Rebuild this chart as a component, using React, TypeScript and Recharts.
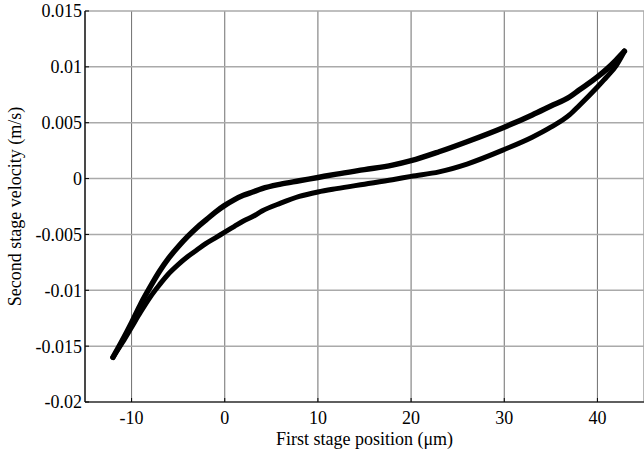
import { LineChart, Line, XAxis, YAxis, CartesianGrid } from 'recharts';

// upper branch of the hysteresis loop, bottom-left tip to top-right tip
const upperX = [-12, -11, -10, -9, -8, -7, -6, -5, -4, -3, -2, -1, 0, 1, 2, 3, 4, 6, 8, 10, 12, 15, 18, 20, 23, 26, 30, 33, 35, 37, 38, 40, 41, 42, 42.9];
const upperY = [
  -0.016, -0.0145, -0.0129, -0.0112, -0.0097, -0.0083, -0.0071, -0.0061, -0.0052, -0.0044, -0.0037, -0.003,
  -0.0024, -0.0019, -0.0015, -0.0012, -0.0009, -0.0005, -0.0002, 0.0001, 0.0004, 0.0008, 0.0012, 0.0016,
  0.0024, 0.0033, 0.0046, 0.0057, 0.0065, 0.0073, 0.0079, 0.0091, 0.0098, 0.0106, 0.0114,
];

// lower branch, same direction
const lowerX = [-12, -11, -10, -9, -8, -7, -6, -5, -4, -3, -2, -1, 0, 1, 2, 3, 4, 6, 8, 10, 12, 15, 18, 20, 23, 26, 30, 33, 35, 37, 38, 40, 41, 42, 42.9];
const lowerY = [
  -0.016, -0.0147, -0.0133, -0.0119, -0.0106, -0.0095, -0.0085, -0.0077, -0.007, -0.0064, -0.0058, -0.0053,
  -0.0048, -0.0043, -0.0038, -0.0034, -0.0029, -0.0022, -0.0016, -0.0012, -0.0009, -0.0005, -0.0001, 0.0002,
  0.0006, 0.0013, 0.0026, 0.0037, 0.0046, 0.0057, 0.0065, 0.0082, 0.0091, 0.0101, 0.0114,
];

const xTicks = [-10, 0, 10, 20, 30, 40];
const yTicks = [-0.02, -0.015, -0.01, -0.005, 0, 0.005, 0.01, 0.015];

const upper = upperX.map((x, i) => ({ x, y: upperY[i] }));
const lower = lowerX.map((x, i) => ({ x, y: lowerY[i] }));

const font = "'Liberation Serif', 'Times New Roman', serif";
const tickStyle = { fill: '#000', fontSize: 18, fontFamily: font };

const fmtY = (v: number) => String(Number(v.toFixed(3)));

export default function App() {
  return (
    <div style={{ position: 'absolute', left: 0, top: 0, background: '#fff' }}>
      <LineChart
        width={644}
        height={457}
        margin={{ top: 11, right: 0, bottom: 0, left: 0 }}
        style={{ fontFamily: font }}
      >
        <CartesianGrid horizontal={false} stroke="#6f6f6f" strokeWidth={1} />
        <CartesianGrid vertical={false} stroke="#aaa" strokeWidth={1.5} />
        <XAxis
          dataKey="x"
          type="number"
          domain={[-15, 45]}
          ticks={xTicks}
          allowDataOverflow
          height={55}
          tickSize={-4}
          tickMargin={13}
          tick={tickStyle}
          axisLine={{ stroke: '#000', strokeWidth: 1.2 }}
          tickLine={{ stroke: '#000' }}
          label={{
            value: 'First stage position (μm)',
            position: 'insideBottom',
            offset: 12,
            style: { fill: '#000', fontSize: 18, fontFamily: font },
          }}
        />
        <YAxis
          type="number"
          domain={[-0.02, 0.015]}
          ticks={yTicks}
          allowDataOverflow
          width={85}
          tickSize={-4}
          tickMargin={7}
          tick={tickStyle}
          tickFormatter={fmtY}
          axisLine={{ stroke: '#000', strokeWidth: 1.2 }}
          tickLine={{ stroke: '#000' }}
          label={{
            value: 'Second stage velocity (m/s)',
            angle: -90,
            position: 'insideLeft',
            offset: 15,
            style: { textAnchor: 'middle', fill: '#000', fontSize: 18, fontFamily: font },
          }}
        />
        <Line
          data={upper}
          dataKey="y"
          type="monotone"
          stroke="#000"
          strokeWidth={5.5}
          strokeLinecap="round"
          dot={false}
          isAnimationActive={false}
        />
        <Line
          data={lower}
          dataKey="y"
          type="monotone"
          stroke="#000"
          strokeWidth={5}
          strokeLinecap="round"
          dot={false}
          isAnimationActive={false}
        />
      </LineChart>
    </div>
  );
}
